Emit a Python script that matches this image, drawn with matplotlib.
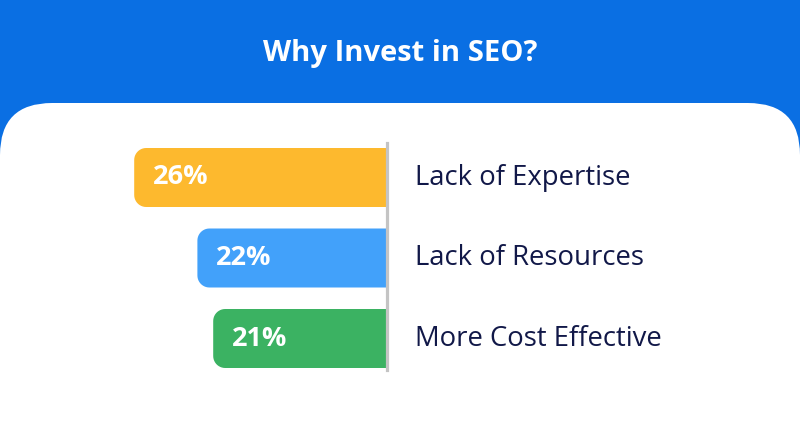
import matplotlib
matplotlib.use("Agg")
import numpy as np
import matplotlib.pyplot as plt
from matplotlib.patches import FancyBboxPatch, Polygon

plt.rcParams['font.family'] = ['Open Sans', 'DejaVu Sans']

title = "Why Invest in SEO?"
categories = ["Lack of Expertise", "Lack of Resources", "More Cost Effective"]
values = [26, 22, 21]
value_labels = ["26%", "22%", "21%"]
colors = ["#FDB92E", "#42A1FA", "#3BB262"]
baseline = 10  # axis starts at 10 (truncated scale, as in the reference)

W, H = 800, 441
fig = plt.figure(figsize=(W / 100, H / 100), dpi=100)
fig.patch.set_facecolor("#0A6FE3")

# background panel axes in pixel units
bg = fig.add_axes([0, 0, 1, 1])
bg.set_xlim(0, W)
bg.set_ylim(H, 0)
bg.axis("off")
panel = FancyBboxPatch((0, 103), W, 500, boxstyle="round,pad=0,rounding_size=52",
                       facecolor="white", edgecolor="none")
bg.add_patch(panel)
bg.text(W / 2, 53, title, color="white", fontsize=21, fontweight="bold",
        ha="center", va="center")

# bar axes (value axis reversed so bars grow to the left)
px_per_x = 15.8
xmax = 30
left_px, right_px = 387 - (xmax - baseline) * px_per_x, 387
top_px, bot_px = 129.2, 386.8
ax = fig.add_axes([left_px / W, 1 - bot_px / H, (right_px - left_px) / W, (bot_px - top_px) / H])
ax.set_xlim(xmax, baseline)
ax.set_ylim(2.6, -0.6)
ax.axis("off")
px_per_y = (bot_px - top_px) / 3.2
bh = 59 / px_per_y
rx = 12 / px_per_x
ry = 12 / px_per_y

def bar_poly(i, v):
    y0, y1 = i - bh / 2, i + bh / 2
    pts = [(baseline, y0), (baseline, y1)]
    t = np.linspace(0, np.pi / 2, 12)
    cx, cy = v - rx, y1 - ry
    pts += [(cx + rx * np.sin(a), cy + ry * np.cos(a)) for a in t]
    cx, cy = v - rx, y0 + ry
    pts += [(cx + rx * np.cos(a), cy - ry * np.sin(a)) for a in t]
    return pts

for i, (v, lab, c, cat) in enumerate(zip(values, value_labels, colors, categories)):
    ax.add_patch(Polygon(bar_poly(i, v), closed=True, facecolor=c, edgecolor="none"))
    ax.annotate(lab, (v, i), xytext=(13.5, 0), textcoords="offset points",
                color="white", fontsize=19.5, fontweight="bold", va="center", ha="left")
    ax.annotate(cat, (baseline, i), xytext=(20.5, 0), textcoords="offset points",
                color="#111848", fontsize=19.8, va="center", ha="left",
                annotation_clip=False)

ax.axvline(baseline, ymin=0.065, ymax=0.946, color="#C4C4C4", linewidth=2.3,
           zorder=5, clip_on=False)

fig.savefig("out.png", dpi=100, facecolor=fig.get_facecolor())
